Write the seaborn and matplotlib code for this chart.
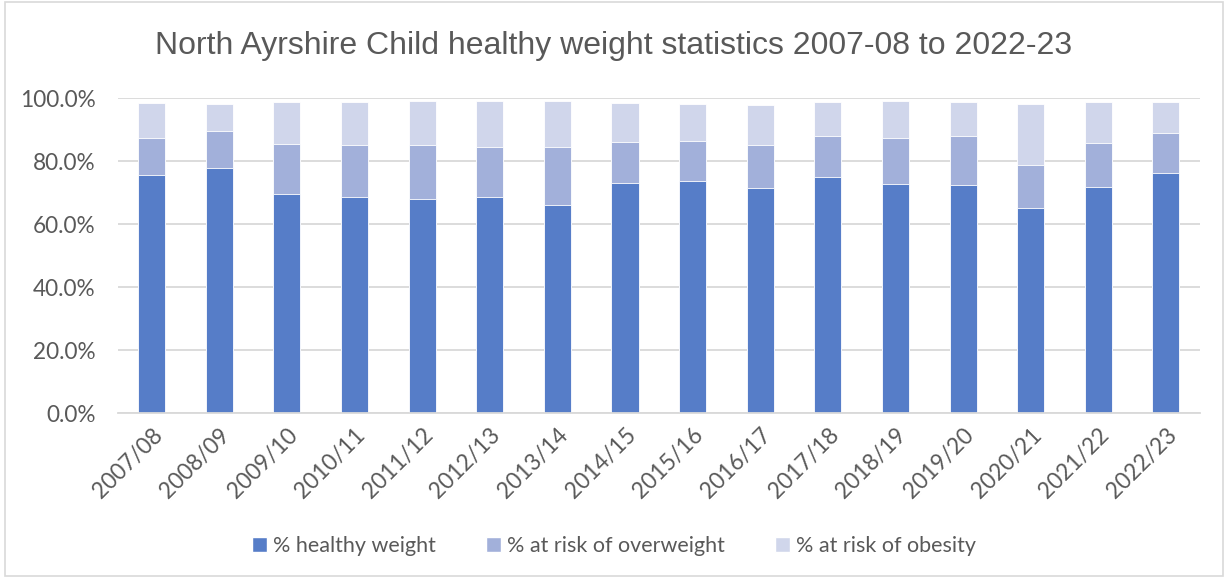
import pandas as pd
import matplotlib.pyplot as plt
import seaborn as sns
from matplotlib.patches import Patch, Rectangle
from matplotlib.ticker import PercentFormatter

# Data (fractions)
years = ["2007/08", "2008/09", "2009/10", "2010/11", "2011/12", "2012/13", "2013/14", "2014/15",
         "2015/16", "2016/17", "2017/18", "2018/19", "2019/20", "2020/21", "2021/22", "2022/23"]
healthy = [0.756, 0.779, 0.696, 0.688, 0.681, 0.688, 0.662, 0.732,
           0.738, 0.716, 0.751, 0.727, 0.724, 0.652, 0.719, 0.764]
overweight = [0.119, 0.118, 0.159, 0.164, 0.171, 0.158, 0.183, 0.128,
              0.125, 0.136, 0.129, 0.148, 0.155, 0.136, 0.138, 0.127]
obesity = [0.110, 0.084, 0.133, 0.136, 0.139, 0.144, 0.146, 0.125,
           0.120, 0.126, 0.108, 0.116, 0.109, 0.193, 0.131, 0.097]

labels = ["% healthy weight", "% at risk of overweight", "% at risk of obesity"]
colors = ["#567DC8", "#A2B0DA", "#D0D6EB"]
text_color = "#595959"

df = pd.DataFrame({"year": years, "healthy": healthy, "overweight": overweight, "obesity": obesity})
df["lvl1"] = df["healthy"]
df["lvl2"] = df["healthy"] + df["overweight"]
df["lvl3"] = df["lvl2"] + df["obesity"]

sns.set_style("white")
plt.rcParams["font.family"] = ["Lato", "DejaVu Sans"]

fig = plt.figure(figsize=(12.28, 5.78), dpi=100)
ax = fig.add_axes([0.096, 0.285, 0.881, 0.545])

# stacked bars: draw cumulative totals from the top down
for col, c in zip(["lvl3", "lvl2", "lvl1"], colors[::-1]):
    sns.barplot(data=df, x="year", y=col, color=c, width=0.4, ax=ax,
                edgecolor="white", linewidth=0.6, saturation=1)

ax.set_ylim(0, 1.0)
ax.set_xlim(-0.5, len(years) - 0.5)
ax.yaxis.set_major_formatter(PercentFormatter(1.0, decimals=1))
ax.set_yticks([0, 0.2, 0.4, 0.6, 0.8, 1.0])
ax.grid(axis="y", color="#D9D9D9", linewidth=1.3)
ax.set_axisbelow(True)
for s in ["top", "right", "left"]:
    ax.spines[s].set_visible(False)
ax.spines["bottom"].set_color("#D9D9D9")
ax.spines["bottom"].set_linewidth(1.3)
ax.set_xlabel("")
ax.set_ylabel("")
ax.tick_params(axis="both", length=0, labelsize=16.3, colors=text_color)
ax.tick_params(axis="y", pad=16)
ax.tick_params(axis="x", pad=8)
plt.setp(ax.get_xticklabels(), rotation=45, ha="right", rotation_mode="anchor")

fig.text(0.5, 0.92, "North Ayrshire Child healthy weight statistics 2007-08 to 2022-23",
         ha="center", va="center", fontsize=23, color=text_color, family="Liberation Sans")

handles = [Patch(facecolor=c, label=l) for c, l in zip(colors, labels)]
fig.legend(handles=handles, loc="center", bbox_to_anchor=(0.5, 0.055), ncol=3, frameon=False,
           fontsize=15.5, labelcolor=text_color, handlelength=0.7, handleheight=0.7,
           handletextpad=0.3, columnspacing=2.3)

fig.patches.append(Rectangle((0.004, 0.004), 0.992, 0.992, transform=fig.transFigure,
                             fill=False, edgecolor="#D9D9D9", linewidth=1.2))

plt.savefig("out.png", dpi=100)
plt.close()
